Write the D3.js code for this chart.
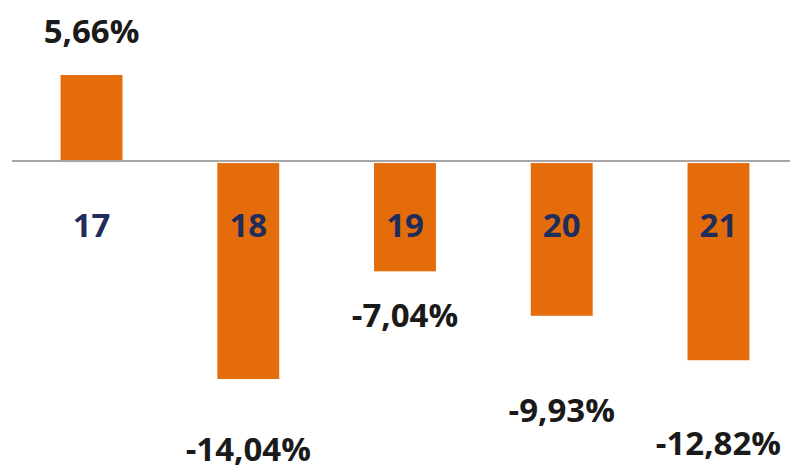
<!DOCTYPE html>
<html>
<head>
<meta charset="utf-8">
<script src="https://cdn.jsdelivr.net/npm/d3@7"></script>
<style>
    body { margin: 0; background: #fff; }
    text { font-family: "Open Sans", "Liberation Sans", sans-serif; font-weight: 700; }
</style>
</head>
<body>
<div id="chart"></div>
<script>
// data
let categories = ["17", "18", "19", "20", "21"];
let values = [5.66, -14.04, -7.04, -9.93, -12.82];
let valueLabels = ["5,66%", "-14,04%", "-7,04%", "-9,93%", "-12,82%"];

// the value labels sit at uneven distances from the bar ends in the original
let labelGap = [32, 83, 57, 107, 96];

let width = 790, height = 470;

let svg = d3.select("#chart").append("svg")
    .attr("width", width)
    .attr("height", height);

let x = d3.scaleBand()
    .domain(categories)
    .range([12, 798])
    .paddingInner(0.605)
    .paddingOuter(0.31);

let y = d3.scaleLinear()
    .domain([-14.04, 5.66])
    .range([378, 75]);

// bars
svg.selectAll("rect.bar")
    .data(values)
    .enter()
    .append("rect")
    .attr("class", "bar")
    .attr("x", (d, i) => x(categories[i]))
    .attr("width", x.bandwidth())
    .attr("y", d => d > 0 ? y(d) : y(0) + 1)
    .attr("height", d => Math.abs(y(d) - y(0)))
    .attr("fill", "#e46c0a");

// zero line
svg.append("line")
    .attr("x1", 12)
    .attr("x2", width)
    .attr("y1", y(0) - 1)
    .attr("y2", y(0) - 1)
    .attr("stroke", "#a6a6a6")
    .attr("stroke-width", 2);

// category labels
svg.selectAll("text.cat")
    .data(categories)
    .enter()
    .append("text")
    .attr("class", "cat")
    .attr("x", d => x(d) + x.bandwidth() / 2)
    .attr("y", 237)
    .attr("text-anchor", "middle")
    .attr("font-size", 33)
    .attr("fill", "#1f2d5c")
    .text(d => d);

// value labels
svg.selectAll("text.val")
    .data(values)
    .enter()
    .append("text")
    .attr("class", "val")
    .attr("x", (d, i) => x(categories[i]) + x.bandwidth() / 2)
    .attr("y", (d, i) => d > 0 ? y(d) - labelGap[i] : y(d) + labelGap[i])
    .attr("text-anchor", "middle")
    .attr("font-size", 33)
    .attr("fill", "#1a1a1a")
    .text((d, i) => valueLabels[i]);
</script>
</body>
</html>
